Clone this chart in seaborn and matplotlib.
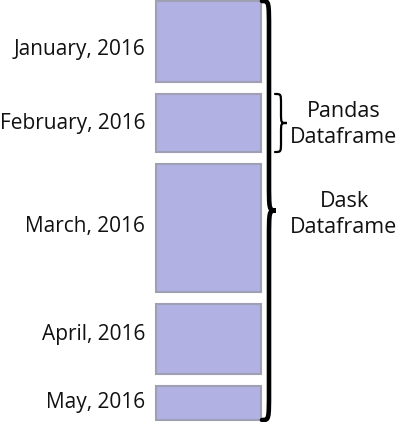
import matplotlib
matplotlib.use('Agg')
import matplotlib.pyplot as plt
from matplotlib.path import Path
from matplotlib.patches import PathPatch
import numpy as np
import seaborn as sns

# --- data ---
months = ['January, 2016', 'February, 2016', 'March, 2016', 'April, 2016', 'May, 2016']
sizes = [81, 58, 128, 70, 34]   # relative partition sizes (pixels in reference)
gap = 12

# label baseline offset from box centre (layout only)
label_dy = [13.5, 6, 4, 1, 5]

sns.set_style('white')
plt.rcParams['font.family'] = ['Open Sans', 'DejaVu Sans']

fig = plt.figure(figsize=(4.0, 4.22), dpi=100)
ax = fig.add_axes([0, 0, 1, 1])
ax.set_xlim(0, 400)
ax.set_ylim(422, 0)
ax.axis('off')

sizes = np.array(sizes)
bottoms = np.concatenate([[1], np.cumsum(sizes + gap)[:-1] + 1])
centers = bottoms + sizes / 2

ax.barh(centers, width=105, left=156, height=sizes,
        color='#b1b1e3', edgecolor='#a0a0b4', linewidth=1.5)

for c, m, dy in zip(centers, months, label_dy):
    ax.text(145, c + dy, m, ha='right', va='baseline', fontsize=15, color='#111111')


def brace(x0, y0, y1, d, q, lw):
    ym = (y0 + y1) / 2
    xm = x0 + d / 2
    verts = [(x0, y0), (xm, y0), (xm, y0), (xm, y0 + q),
             (xm, ym - q),
             (xm, ym), (xm, ym), (x0 + d, ym),
             (xm, ym), (xm, ym), (xm, ym + q),
             (xm, y1 - q),
             (xm, y1), (xm, y1), (x0, y1)]
    codes = [Path.MOVETO, Path.CURVE4, Path.CURVE4, Path.CURVE4,
             Path.LINETO,
             Path.CURVE4, Path.CURVE4, Path.CURVE4,
             Path.CURVE4, Path.CURVE4, Path.CURVE4,
             Path.LINETO,
             Path.CURVE4, Path.CURVE4, Path.CURVE4]
    ax.add_patch(PathPatch(Path(verts, codes), facecolor='none',
                           edgecolor='black', linewidth=lw, capstyle='round'))


brace(262, 1, 420, 14, 30, 3.3)
brace(275, bottoms[1], bottoms[1] + sizes[1], 12, 10, 1.6)

for y, line in [(117, 'Pandas'), (143, 'Dataframe'), (207, 'Dask'), (233, 'Dataframe')]:
    ax.text(344, y, line, ha='center', va='baseline', fontsize=15.5, color='#111111')

fig.savefig('out.png', dpi=100)
